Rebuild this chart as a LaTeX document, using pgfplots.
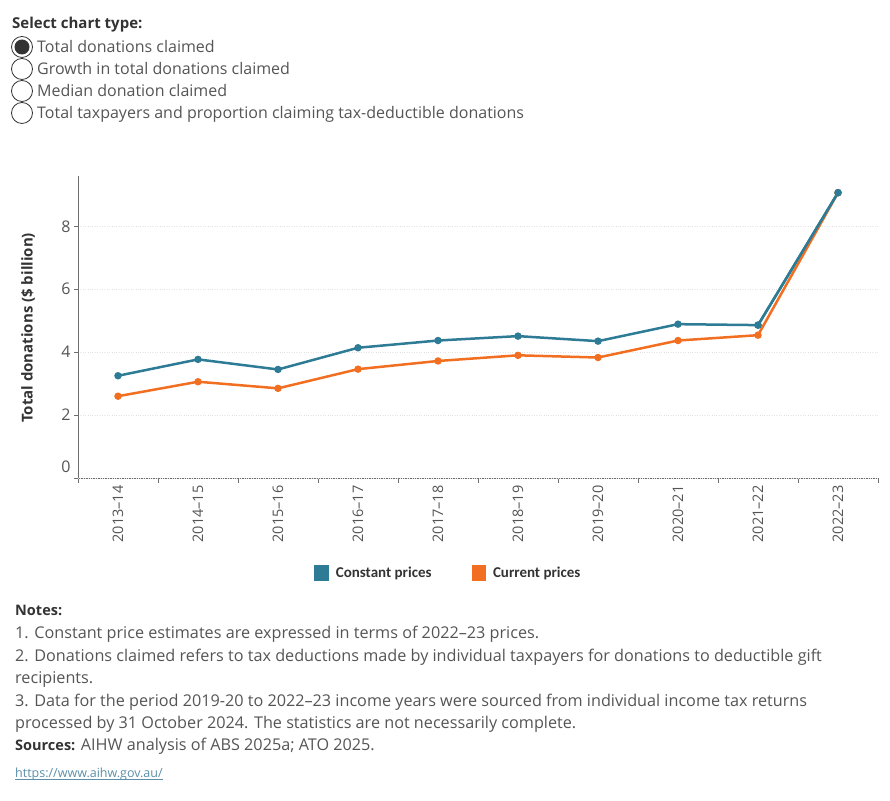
\documentclass[border=0pt]{standalone}
\usepackage{fontspec}
\setmainfont{Open Sans}
\newfontfamily\notesfont{Carlito}
\usepackage{pgfplots}
\pgfplotsset{compat=1.18}
\definecolor{constcol}{HTML}{2D7B95}
\definecolor{currcol}{HTML}{F26F21}
\definecolor{txtgray}{HTML}{555555}
\definecolor{darktxt}{HTML}{333333}
\definecolor{gridgray}{HTML}{E3E3E3}
\definecolor{axisgray}{HTML}{6E6E6E}
\definecolor{urlcol}{HTML}{5B8FA8}
\begin{document}
\begin{tikzpicture}[x=1pt,y=1pt]
\path[use as bounding box] (0,0) rectangle (890,800);
% header
\node[anchor=base west, inner sep=0, text=darktxt, font=\bfseries\fontsize{15}{16}\selectfont] at (12,771) {Select chart type:};
\foreach \yy/\lab in {47/Total donations claimed,69/Growth in total donations claimed,91/Median donation claimed,113/Total taxpayers and proportion claiming tax-deductible donations}{
  \draw[darktxt, line width=0.8pt, fill=white] (22,800-\yy) circle (10.5);
  \node[anchor=base west, inner sep=0, text=txtgray, font=\fontsize{16}{18}\selectfont] at (37,800-\yy-5.5) {\lab};
}
\fill[darktxt] (22,753) circle (7.5);
\begin{axis}[
  at={(78pt,322pt)}, anchor=south west,
  scale only axis, width=800pt, height=302pt,
  xmin=-0.5, xmax=9.5, ymin=0, ymax=9.6,
  axis x line*=bottom, axis y line*=left,
  axis line style={axisgray, line width=0.8pt},
  /pgf/number format/assume math mode=true,
  xtick={0,...,9},
  xticklabels={2013–14,2014–15,2015–16,2016–17,2017–18,2018–19,2019–20,2020–21,2021–22,2022–23},
  x tick label style={rotate=90, anchor=east, text=txtgray, font=\fontsize{14.5}{16}\selectfont},
  major x tick style={draw=none},
  minor xtick={-0.5,0.5,...,9.5},
  minor x tick style={axisgray, line width=0.6pt},
  tick align=outside,
  minor tick length=5pt,
  major tick length=4pt,
  ytick={2,4,6,8},
  extra y ticks={0},
  extra y tick style={yticklabel style={yshift=11pt}},
  y tick style={axisgray, line width=0.6pt},
  y tick label style={text=txtgray, font=\fontsize{16}{18}\selectfont},
  ymajorgrids,
  grid style={gridgray, dotted, line width=0.7pt},
  ylabel={Total donations (\$ billion)},
  ylabel style={at={(axis description cs:-0.0625,0.497)}, anchor=center, text=darktxt, font=\bfseries\fontsize{15}{16}\selectfont},
  legend style={at={(axis description cs:0.463,-0.315)}, anchor=center, draw=none, fill=none,
    legend columns=2, font=\notesfont\bfseries\fontsize{15}{16}\selectfont, text=darktxt,
    /tikz/every odd column/.append style={column sep=5pt},
    /tikz/every even column/.append style={column sep=38pt}},
  legend image code/.code={\fill[#1] (0pt,-7pt) rectangle (12pt,7pt);},
  clip=false,
]
\addplot[constcol, line width=2.5pt, mark=*, mark size=2.4pt, mark options={solid}] coordinates {
(0,3.25) (1,3.77) (2,3.45) (3,4.14) (4,4.37) (5,4.51) (6,4.35) (7,4.89) (8,4.86) (9,9.07)};
\addlegendentry{Constant prices}
\addplot[currcol, line width=2.5pt, mark=*, mark size=2.4pt, mark options={solid}] coordinates {
(0,2.60) (1,3.06) (2,2.85) (3,3.46) (4,3.72) (5,3.90) (6,3.83) (7,4.37) (8,4.54) (9,9.07)};
\addlegendentry{Current prices}
\addplot[constcol, line width=2.5pt, mark=*, mark size=2.4pt, forget plot] coordinates {(8,4.86) (9,9.07)};
\end{axis}
% notes
\begin{scope}[every node/.style={anchor=base west, inner sep=0, text=txtgray, font=\fontsize{16.2}{18}\selectfont}]
\node[text=darktxt, font=\bfseries\fontsize{14.5}{18}\selectfont] at (15,800-616) {Notes:};
\node at (15,800-638) {1. Constant price estimates are expressed in terms of 2022–23 prices.};
\node at (15,800-661) {2. Donations claimed refers to tax deductions made by individual taxpayers for donations to deductible gift};
\node at (15,800-683) {recipients.};
\node at (15,800-706) {3. Data for the period 2019-20 to 2022–23 income years were sourced from individual income tax returns};
\node at (15,800-728) {processed by 31 October 2024. The statistics are not necessarily complete.};
\node at (15,800-750) {{\color{darktxt}\bfseries\fontsize{14.5}{18}\selectfont Sources:} AIHW analysis of ABS 2025a; ATO 2025.};
\node[text=urlcol, font=\fontsize{12.5}{14}\selectfont] (u) at (15,800-777) {https://www.aihw.gov.au/};
\draw[urlcol, line width=0.5pt] ([yshift=-2pt]u.base west) -- ([yshift=-2pt]u.base east);
\end{scope}
\end{tikzpicture}
\end{document}
